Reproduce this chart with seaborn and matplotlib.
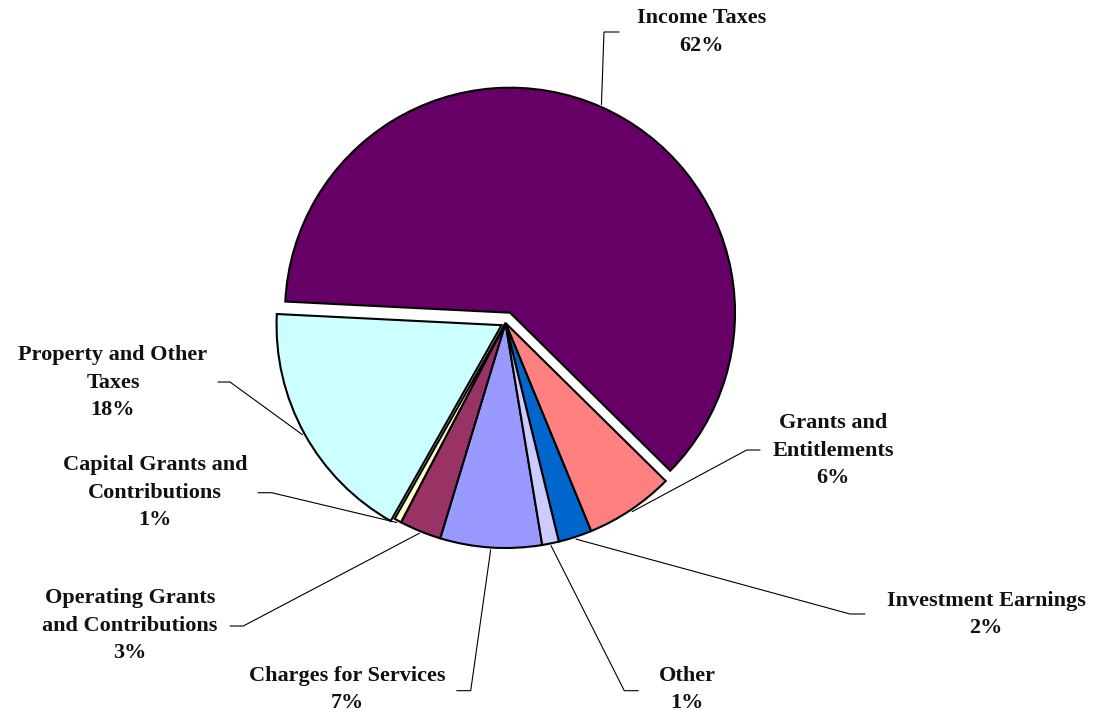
import numpy as np
import matplotlib
matplotlib.use("Agg")
import matplotlib.pyplot as plt
import seaborn as sns

# Revenue sources, in drawing order (clockwise from the first slice)
categories = [
    "Charges for Services",
    "Operating Grants\nand Contributions",
    "Capital Grants and\nContributions",
    "Property and Other\nTaxes",
    "Income Taxes",
    "Grants and\nEntitlements",
    "Investment Earnings",
    "Other",
]
shares = [7.3, 3.0, 0.51, 17.59, 61.6, 6.4, 2.4, 1.2]
colors = ["#9999FF", "#993366", "#FFFFCC", "#CCFFFF",
          "#660066", "#FF8080", "#0066CC", "#CCCCFF"]
explode = [0, 0, 0, 0.02, 0.05, 0, 0, 0]

sns.set_theme(style="white")
plt.rcParams["font.family"] = ["Liberation Serif", "DejaVu Serif"]

W, H = 1101, 713
CX, CY, R = 505.5, 323.0, 225.0  # pie centre and radius in pixels (y down)


def px(x, y):
    """Pixel position (y measured downwards) -> axes data units."""
    return (x - CX) / R, (CY - y) / R


fig = plt.figure(figsize=(W / 100, H / 100), dpi=100)
fig.patch.set_facecolor("white")
ax = fig.add_axes([0, 0, 1, 1])

wedges, _ = ax.pie(
    shares,
    colors=colors,
    explode=explode,
    startangle=-80.6,
    counterclock=False,
    radius=1.0,
    center=(0, 0),
    frame=True,
    wedgeprops=dict(edgecolor="black", linewidth=1.5),
)

ax.set_xlim(-CX / R, (W - CX) / R)
ax.set_ylim(-(H - CY) / R, CY / R)
ax.axis("off")

# label layout: text centre (x, y) and leader elbow / end points, in pixels
label_pos = [
    (347, 689.5), (130, 626), (155, 492.7), (113, 382.7),
    (702, 32), (833, 450.7), (986, 614.5), (687, 689.5),
]
elbows = [
    ((470.7, 690.7), (456.7, 690.7)),
    ((243.3, 626.0), (230.0, 626.0)),
    ((271.7, 492.7), (258.0, 492.7)),
    ((230.0, 382.0), (218.0, 382.0)),
    ((604.0, 32.0), (619.0, 32.0)),
    ((746.7, 450.0), (760.0, 450.0)),
    ((850.0, 614.0), (865.0, 614.0)),
    ((624.3, 690.7), (638.3, 690.7)),
]

for wedge, name, share, (lx, ly), (elb, end) in zip(
        wedges, categories, shares, label_pos, elbows):
    mid = np.deg2rad(0.5 * (wedge.theta1 + wedge.theta2))
    cx, cy = wedge.center
    ax0 = cx + 1.01 * wedge.r * np.cos(mid)
    ay0 = cy + 1.01 * wedge.r * np.sin(mid)
    ex, ey = px(*elb)
    tx, ty = px(*end)
    ax.plot([ax0, ex, tx], [ay0, ey, ty], color="black", lw=0.8,
            solid_joinstyle="miter", clip_on=False, zorder=1)
    tx_c, ty_c = px(lx, ly)
    ax.text(tx_c, ty_c, f"{name}\n{share:.0f}%", ha="center", va="center",
            fontsize=16, fontweight="bold", color="#111111",
            linespacing=1.5, multialignment="center")

fig.savefig("out.png", dpi=100, facecolor="white")
